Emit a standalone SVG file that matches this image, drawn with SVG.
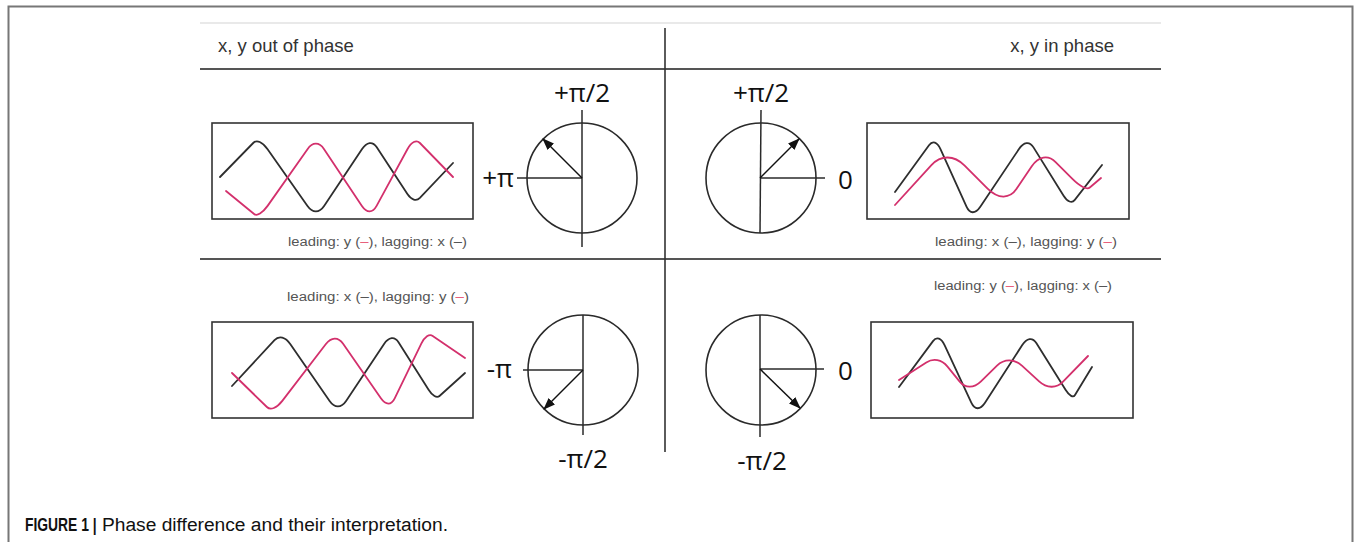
<svg xmlns="http://www.w3.org/2000/svg" width="1354" height="542" viewBox="0 0 1354 542">
<style>
.frame{fill:none;stroke:#777;stroke-width:2}
.rule{fill:none;stroke:#555;stroke-width:2}
.light{fill:none;stroke:#e2e2e2;stroke-width:1.5}
.div{fill:none;stroke:#333;stroke-width:1.6}
.box{fill:none;stroke:#333;stroke-width:1.6}
.circ{fill:none;stroke:#2a2a2a;stroke-width:1.6}
.ax{fill:none;stroke:#2a2a2a;stroke-width:1.5}
.arr{fill:none;stroke:#111;stroke-width:1.5;marker-end:url(#ah)}
.wk{fill:none;stroke:#2e2e2e;stroke-width:1.8;stroke-linejoin:round;stroke-linecap:round}
.wp{fill:none;stroke:#d3306c;stroke-width:1.8;stroke-linejoin:round;stroke-linecap:round}
.hdr{font-family:"Liberation Sans",Arial,sans-serif;font-size:18.5px;fill:#333}
.cap{font-family:"Liberation Sans",Arial,sans-serif;font-size:12.5px;fill:#555}
.pk{fill:#e8607c}
.lbl{font-family:"Open Sans","Noto Sans",sans-serif;font-size:26px;fill:#111}
.fig{font-family:"Liberation Sans",Arial,sans-serif;font-size:18px;fill:#111}
</style>
<defs>
<marker id="ah" markerUnits="userSpaceOnUse" markerWidth="12" markerHeight="10" refX="11" refY="4.5" orient="auto">
<path d="M0,0 L12,4.5 L0,9 Z" fill="#111"/>
</marker>
</defs>

<g id="frame">
<path class="frame" d="M8.5,542 V6.5 H1352.5 V542"/>
<line class="light" x1="200" y1="23" x2="1161" y2="23"/>
<line class="rule" x1="200" y1="69" x2="1161" y2="69"/>
<line class="rule" x1="200" y1="259" x2="1161" y2="259"/>
<line class="div" x1="665" y1="28" x2="665" y2="452"/>
</g>

<g id="headers">
<text class="hdr" x="218" y="52">x, y out of phase</text>
<text class="hdr" x="1114" y="52" text-anchor="end">x, y in phase</text>
</g>

<g id="wave-tl">
<rect class="box" x="212" y="123" width="261" height="96"/>
<path class="wk" d="M220,177 L253.2,143 C256.7,139.4 262.4,141.9 267.6,149.2 L307.5,205.9 C312.6,213.1 319.2,213.1 324.1,205.9 L361.9,149.2 C366.8,141.9 372.6,141 376.6,147.1 L407.4,194 C411.4,200 416.3,201.5 419.9,197.9 L453,163"/>
<path class="wp" d="M226,191 L254.1,214 C257,216.4 262.4,213.1 267.6,205.9 L307.5,149.2 C312.6,141.9 319.2,141.9 324.1,149.2 L361.9,205.9 C366.8,213.1 372.6,213.1 376.6,205.9 L407.4,149.2 C411.4,141.9 416.3,139.4 419.9,143 L453,177"/>
<text class="cap" x="288" y="246" textLength="179" lengthAdjust="spacingAndGlyphs">leading: y (<tspan class="pk">–</tspan>), lagging: x (–)</text>
</g>

<g id="phasor-tl">
<circle class="circ" cx="582" cy="178" r="55"/>
<line class="ax" x1="582" y1="110" x2="582" y2="247"/>
<line class="ax" x1="517" y1="178" x2="582" y2="178"/>
<line class="arr" x1="582" y1="178" x2="543" y2="139"/>
<text class="lbl" x="582" y="102" text-anchor="middle">+π/2</text>
<text class="lbl" x="514" y="187" text-anchor="end">+π</text>
</g>

<g id="phasor-tr">
<circle class="circ" cx="761" cy="178" r="55"/>
<line class="ax" x1="761" y1="110" x2="760" y2="233"/>
<line class="ax" x1="760" y1="178" x2="825" y2="178"/>
<line class="arr" x1="760" y1="178" x2="799" y2="139"/>
<text class="lbl" x="761" y="102" text-anchor="middle">+π/2</text>
<text class="lbl" x="838" y="189">0</text>
</g>

<g id="wave-tr">
<rect class="box" x="867" y="123" width="262" height="96"/>
<path class="wk" d="M895,192 L929,145.3 C932.6,140.3 937.2,141.9 940.6,149.3 L966.5,206.7 C969.8,214.1 975.3,214.1 980.3,206.7 L1018.8,149.3 C1023.7,141.9 1029.6,141.1 1033.5,147.4 L1063.6,195.7 C1067.4,201.9 1071.9,203.5 1074.8,199.9 L1102,165"/>
<path class="wp" d="M895,205 L931.4,165.1 C940.8,154.8 954,155 964.4,165.4 L987.6,188.6 C998,199 1009.6,199.2 1016.4,189.1 L1031.6,166.5 C1038.4,156.3 1048,154.5 1055.6,162.1 L1072.4,178.9 C1080,186.5 1086.9,189.9 1089.8,187.5 L1101,178"/>
<text class="cap" x="935" y="246" textLength="182" lengthAdjust="spacingAndGlyphs">leading: x (–), lagging: y (<tspan class="pk">–</tspan>)</text>
</g>

<g id="wave-bl">
<text class="cap" x="287" y="301" textLength="182" lengthAdjust="spacingAndGlyphs">leading: x (–), lagging: y (<tspan class="pk">–</tspan>)</text>
<rect class="box" x="212" y="322" width="261" height="96"/>
<path class="wk" d="M232,386 L274.5,340.1 C279,335.2 285.4,336.9 290.4,344.2 L329.6,400.9 C334.6,408.1 341.2,408.1 346.1,400.9 L383.9,344.2 C388.8,336.9 394.6,336.1 398.5,342.2 L428.6,389.8 C432.4,395.9 436.8,398.4 439.5,396 L465,373"/>
<path class="wp" d="M232,373 L266.9,407 C270.5,410.6 276.7,408.1 282.3,400.9 L325.7,344.2 C331.3,336.9 338.2,336.7 343.1,343.7 L380.9,398.3 C385.8,405.3 391.3,405.3 394.7,398.3 L421.3,343.7 C424.7,336.7 429.3,333.6 432.7,335.9 L465,358"/>
</g>

<g id="phasor-bl">
<circle class="circ" cx="583" cy="370" r="55"/>
<line class="ax" x1="583" y1="315" x2="583" y2="435"/>
<line class="ax" x1="523" y1="370" x2="583" y2="370"/>
<line class="arr" x1="583" y1="370" x2="544" y2="409"/>
<text class="lbl" x="512" y="378" text-anchor="end">-π</text>
<text class="lbl" x="583" y="468" text-anchor="middle">-π/2</text>
</g>

<g id="phasor-br">
<circle class="circ" cx="761" cy="370" r="55"/>
<line class="ax" x1="760" y1="315" x2="760" y2="437"/>
<line class="ax" x1="760" y1="369" x2="824" y2="369"/>
<line class="arr" x1="760" y1="369" x2="800" y2="408"/>
<text class="lbl" x="838" y="380">0</text>
<text class="lbl" x="762" y="470" text-anchor="middle">-π/2</text>
</g>

<g id="wave-br">
<text class="cap" x="934" y="290" textLength="178" lengthAdjust="spacingAndGlyphs">leading: y (<tspan class="pk">–</tspan>), lagging: x (–)</text>
<rect class="box" x="871" y="322" width="262" height="96"/>
<path class="wk" d="M899,387 L933,341.1 C936.6,336.2 941.3,337.9 944.7,345.3 L971.3,402.7 C974.7,410.1 980.2,410.1 985,402.7 L1022.1,345.3 C1026.8,337.9 1032.5,337 1036.3,343.1 L1065.7,390 C1069.5,396 1073.2,398 1075,395 L1092,367"/>
<path class="wp" d="M899,380 L926.3,362.5 C933.3,358 941.7,359.6 947.3,366.4 L959.7,381.6 C965.3,388.4 973.8,388.3 981,381.3 L997,365.7 C1004.2,358.7 1014.2,358.7 1021.9,365.7 L1039.1,381.3 C1046.8,388.3 1056.3,388.6 1062.8,381.9 L1088,356"/>
</g>

<g id="caption">
<text class="fig" transform="translate(25 531) scale(0.77 1)" font-weight="bold">FIGURE 1 |</text>
<text class="fig" x="102" y="531" textLength="346" lengthAdjust="spacingAndGlyphs">Phase difference and their interpretation.</text>
</g>
</svg>
